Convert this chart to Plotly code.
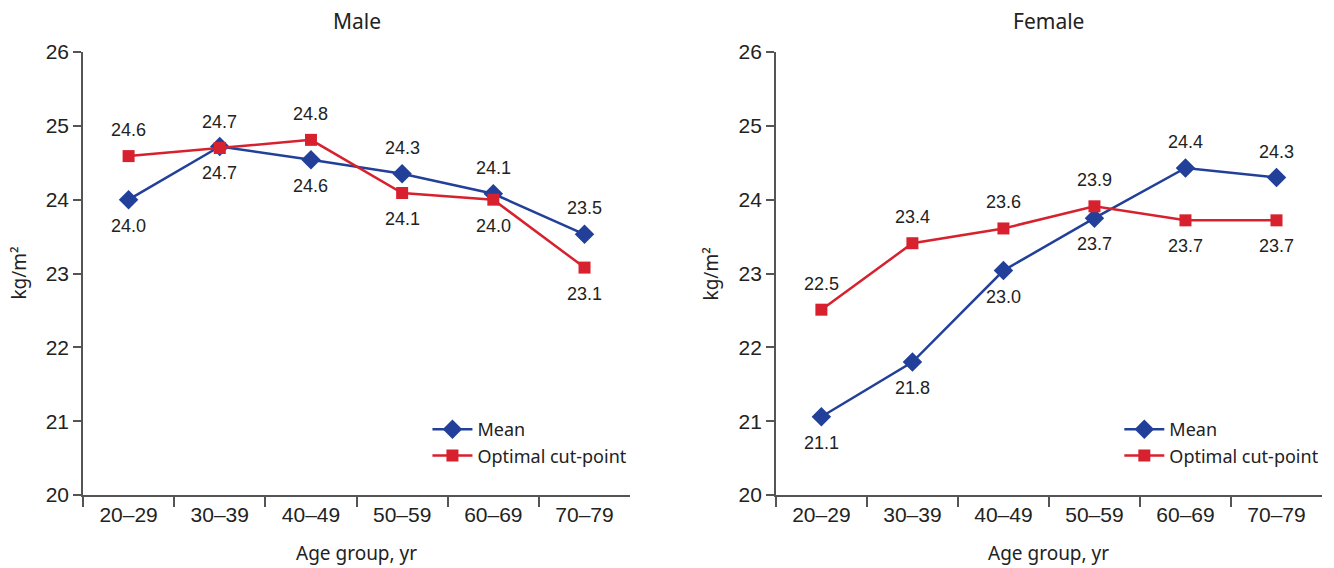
import plotly.graph_objects as go

age_groups = ["20–29", "30–39", "40–49", "50–59", "60–69", "70–79"]

male_mean = [24.0, 24.72, 24.54, 24.35, 24.08, 23.53]
male_cut = [24.59, 24.7, 24.81, 24.09, 24.0, 23.08]
female_mean = [21.06, 21.8, 23.04, 23.75, 24.43, 24.3]
female_cut = [22.51, 23.41, 23.61, 23.91, 23.72, 23.72]

male_mean_labels = ["24.0", "24.7", "24.6", "24.3", "24.1", "23.5"]
male_cut_labels = ["24.6", "24.7", "24.8", "24.1", "24.0", "23.1"]
female_mean_labels = ["21.1", "21.8", "23.0", "23.7", "24.4", "24.3"]
female_cut_labels = ["22.5", "23.4", "23.6", "23.9", "23.7", "23.7"]

# +1 = label above point, -1 = below
male_mean_pos = [-1, -1, -1, 1, 1, 1]
male_cut_pos = [1, 1, 1, -1, -1, -1]
female_mean_pos = [-1, -1, -1, -1, 1, 1]
female_cut_pos = [1, 1, 1, 1, -1, -1]

BLUE = "#22409a"
RED = "#d7212e"
AXIS = "#555555"
TXT = "#222222"
TICKFONT = dict(family="Liberation Sans, Arial", size=21, color=TXT)
LABELFONT = dict(family="Liberation Sans, Arial", size=18, color=TXT)
TITLEFONT = dict(family="Noto Sans, Open Sans", size=21, color=TXT)
AXTITLEFONT = dict(family="Noto Sans, Open Sans", size=19, color=TXT)
LEGFONT = dict(family="Noto Sans, Open Sans", size=18, color=TXT)

fig = go.Figure()

panels = [
    ("x", "y", "legend", male_mean, male_cut, male_mean_labels, male_cut_labels, male_mean_pos, male_cut_pos),
    ("x2", "y2", "legend2", female_mean, female_cut, female_mean_labels, female_cut_labels, female_mean_pos, female_cut_pos),
]

for xa, ya, lg, mean, cut, ml, cl, mp, cp in panels:
    fig.add_trace(go.Scatter(
        x=age_groups, y=mean, mode="lines+markers", name="Mean",
        line=dict(color=BLUE, width=2.5),
        marker=dict(symbol="diamond", size=15, color=BLUE),
        xaxis=xa, yaxis=ya, legend=lg))
    fig.add_trace(go.Scatter(
        x=age_groups, y=cut, mode="lines+markers", name="Optimal cut-point",
        line=dict(color=RED, width=2.5),
        marker=dict(symbol="square", size=12, color=RED),
        xaxis=xa, yaxis=ya, legend=lg))
    for vals, labs, pos in ((mean, ml, mp), (cut, cl, cp)):
        for c, v, t, p in zip(age_groups, vals, labs, pos):
            fig.add_annotation(x=c, y=v, text=t, showarrow=False,
                               xref=xa, yref=ya, yshift=26 * p,
                               font=LABELFONT)

axis_common = dict(showline=True, linecolor=AXIS, linewidth=1.5,
                   ticks="outside", tickcolor=AXIS, tickwidth=1.5,
                   showgrid=False, zeroline=False, tickfont=TICKFONT)

W, H = 1334, 568
ml_, mr_, mt_, mb_ = 83, 10, 52, 73
pw = W - ml_ - mr_
ph = H - mt_ - mb_
d1 = [0, (631 - 83) / pw]
d2 = [(777 - 83) / pw, 1]

fig.update_layout(
    width=W, height=H,
    margin=dict(l=ml_, r=mr_, t=mt_, b=mb_),
    plot_bgcolor="white", paper_bgcolor="white",
    xaxis=dict(domain=d1, range=[-0.5, 5.5], tickson="boundaries", ticklen=10, anchor="y", **axis_common),
    yaxis=dict(domain=[0, 1], range=[20, 26], dtick=1, ticklen=8, anchor="x", **axis_common),
    xaxis2=dict(domain=d2, range=[-0.5, 5.5], tickson="boundaries", ticklen=10, anchor="y2", **axis_common),
    yaxis2=dict(domain=[0, 1], range=[20, 26], dtick=1, ticklen=8, anchor="x2", **axis_common),
    legend=dict(x=(428 - 83) / pw, y=(495 - 411) / ph, xanchor="left", yanchor="top",
                font=LEGFONT, bgcolor="rgba(0,0,0,0)", tracegroupgap=0, itemwidth=40),
    legend2=dict(x=(1121 - 83) / pw, y=(495 - 411) / ph, xanchor="left", yanchor="top",
                 font=LEGFONT, bgcolor="rgba(0,0,0,0)", tracegroupgap=0, itemwidth=40),
)

for txt, dom in (("Male", d1), ("Female", d2)):
    fig.add_annotation(text=txt, x=(dom[0] + dom[1]) / 2, y=(495 - 21) / ph,
                       xref="paper", yref="paper", showarrow=False,
                       font=TITLEFONT, xanchor="center", yanchor="middle")
    fig.add_annotation(text="Age group, yr", x=(dom[0] + dom[1]) / 2, y=(495 - 553) / ph,
                       xref="paper", yref="paper", showarrow=False,
                       font=AXTITLEFONT, xanchor="center", yanchor="middle")

for px in (18, 712):
    fig.add_annotation(text="kg/m²", x=(px - 83) / pw, y=0.5, xref="paper", yref="paper",
                       showarrow=False, textangle=-90, font=AXTITLEFONT,
                       xanchor="center", yanchor="middle")

fig.write_html("out.html", config={"displayModeBar": False},
               post_script="document.body.style.margin='0';document.body.style.overflow='hidden';")
